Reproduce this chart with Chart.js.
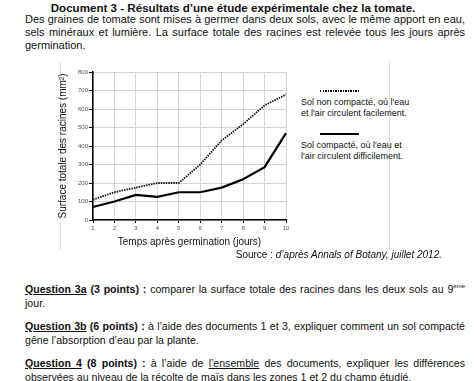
<!DOCTYPE html>
<html>
<head>
<meta charset="utf-8">
<script src="https://cdn.jsdelivr.net/npm/chart.js@4"></script>
<style>
  body { margin: 0; width: 474px; height: 381px; background: #fff; font-family: "Liberation Sans", Arial, sans-serif; color: #111; position: relative; overflow: hidden; }
  .t { position: absolute; white-space: nowrap; }
  .para { position: absolute; left: 25px; width: 440px; font-size: 11px; line-height: 13px; text-align: justify; text-align-last: left; }
  .q { font-size: 10.6px; line-height: 14px; }
  .frame { position: absolute; top: 62px; height: 188px; width: 0; border-left: 1px solid #ddd; }
  .leg { position: absolute; left: 301px; font-size: 9px; line-height: 11px; }
  .mark { position: absolute; left: 320px; width: 39px; height: 2px; }
  u { text-decoration-thickness: 1px; }
</style>
</head>
<body>
<div class="t" style="left:0;width:466px;text-align:center;top:1px;font-size:11.6px;font-weight:bold;">Document 3 - Résultats d’une étude expérimentale chez la tomate.</div>
<div class="para" style="top:13px;">Des graines de tomate sont mises à germer dans deux sols, avec le même apport en eau, sels minéraux et lumière. La surface totale des racines est relevée tous les jours après germination.</div>

<div class="frame" style="left:60px;"></div>
<div class="frame" style="left:389px;"></div>

<div style="position:absolute;left:55px;top:60px;width:238px;height:192px;">
  <canvas id="c"></canvas>
</div>

<div class="mark" style="top:90px;background:repeating-linear-gradient(90deg,#000 0 1.5px,transparent 1.5px 2.5px);"></div>
<div class="leg" style="top:97px;">Sol non compacté, où l'eau<br>et l'air circulent facilement.</div>
<div class="mark" style="top:133px;background:#000;"></div>
<div class="leg" style="top:140px;">Sol compacté, où l'eau et<br>l'air circulent difficilement.</div>

<div class="t" style="right:32px;top:249px;font-size:10px;">Source : <i>d’après Annals of Botany, juillet 2012.</i></div>

<div class="para q" style="top:282px;"><b><u>Question 3a</u> (3 points) :</b> comparer la surface totale des racines dans les deux sols au 9<sup style="font-size:6px;line-height:0;">ème</sup> jour.</div>
<div class="para q" style="top:319px;"><b><u>Question 3b</u> (6 points) :</b> à l’aide des documents 1 et 3, expliquer comment un sol compacté gêne l’absorption d’eau par la plante.</div>
<div class="para q" style="top:356px;"><b><u>Question 4</u> (8 points) :</b> à l’aide de <u>l’ensemble</u> des documents, expliquer les différences observées au niveau de la récolte de maïs dans les zones 1 et 2 du champ étudié.</div>

<script>
var days = [1, 2, 3, 4, 5, 6, 7, 8, 9, 10];
var nonCompacte = [110, 150, 175, 200, 200, 300, 430, 518, 620, 678];
var compacte = [70, 100, 136, 125, 150, 150, 175, 220, 286, 470];
var yTicks = [0, 100, 200, 300, 400, 500, 600, 700, 800];

var config = {
  type: 'line',
  data: {
    labels: days,
    datasets: [{
      label: 'Sol non compacté',
      data: nonCompacte,
      borderColor: '#111',
      borderWidth: 1.8,
      borderDash: [1.5, 1],
      pointRadius: 0,
      tension: 0
    }, {
      label: 'Sol compacté',
      data: compacte,
      borderColor: '#000',
      borderWidth: 2.2,
      pointRadius: 0,
      tension: 0
    }]
  },
  options: {
    responsive: true,
    maintainAspectRatio: false,
    animation: false,
    layout: { padding: { top: 12, right: 7, bottom: 0, left: 0 } },
    plugins: { legend: { display: false }, tooltip: { enabled: false } },
    scales: {
      x: {
        grid: { color: '#d4d4d4', tickLength: 3, tickColor: '#000' },
        border: { color: '#000', width: 1.5 },
        ticks: { font: { size: 6, family: 'Liberation Sans' }, color: '#555', padding: 2, maxRotation: 0 },
        title: { display: true, text: 'Temps après germination (jours)', font: { size: 10, family: 'Liberation Sans' }, color: '#111', padding: { top: 2, bottom: 4 } },
        afterFit: function(s) { s.height = 32; }
      },
      y: {
        min: 0,
        max: 800,
        afterBuildTicks: function(s) { s.ticks = yTicks.map(function(v) { return { value: v }; }); },
        grid: { color: '#d4d4d4', tickLength: 4, tickColor: '#000' },
        border: { color: '#000', width: 1.5 },
        ticks: { font: { size: 6, family: 'Liberation Sans' }, color: '#555', padding: 1 },
        title: { display: true, text: 'Surface totale des racines (mm²)', font: { size: 10, family: 'Liberation Sans' }, color: '#111', padding: { top: 2, bottom: 0 } },
        afterFit: function(s) { s.width = 38; }
      }
    }
  }
};

window.onload = function() {
  var ctx = document.getElementById('c').getContext('2d');
  window.myChart = new Chart(ctx, config);
};
</script>
</body>
</html>
